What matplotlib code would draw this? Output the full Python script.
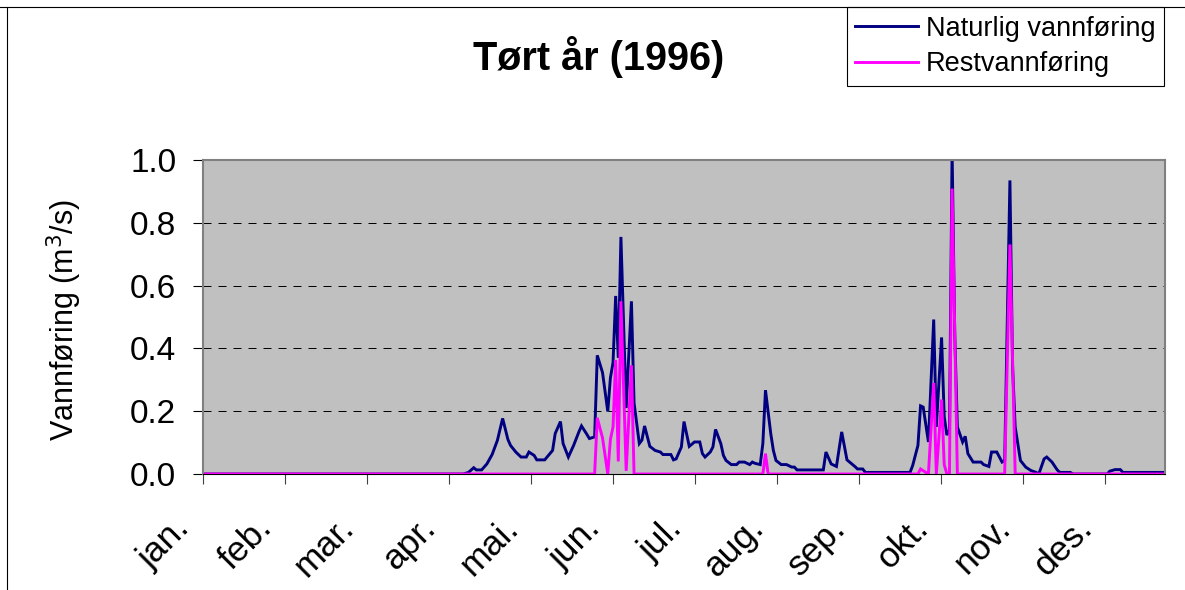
import numpy as np
import matplotlib
matplotlib.use("Agg")
import matplotlib.pyplot as plt
from matplotlib.lines import Line2D
from matplotlib.transforms import ScaledTranslation

plt.rcParams["font.family"] = ["Liberation Sans", "DejaVu Sans"]

# Daily flow 1996 (day of year, m3/s)
natural_day = [0, 99, 101, 103, 104, 106, 108, 110, 112, 114, 116, 117, 119, 121, 123, 124,
               126, 127, 130, 133, 134, 136, 137, 139, 141, 143, 144, 146, 147, 149, 150, 152,
               154, 155, 156, 157, 158, 159, 161, 163, 164, 166, 167, 168, 170, 172, 174, 175,
               178, 179, 180, 182, 183, 185, 187, 189, 190, 191, 192, 193, 194, 195, 197, 198,
               199, 201, 203, 204, 206, 208, 209, 210, 212, 213, 214, 216, 217, 218, 220, 222,
               224, 225, 226, 236, 237, 239, 241, 243, 245, 246, 248, 249, 251, 252, 269, 270,
               272, 273, 274, 276, 278, 279, 281, 282, 283, 284, 285, 286, 287, 289, 290, 291,
               293, 296, 297, 299, 300, 302, 304, 305, 307, 308, 309, 311, 313, 315, 317, 318,
               320, 321, 323, 325, 326, 330, 331, 344, 345, 347, 349, 350, 366]
natural_flow = [0, 0, 0.005, 0.02, 0.013, 0.013, 0.032, 0.062, 0.107, 0.177, 0.11, 0.091, 0.07,
                0.054, 0.054, 0.07, 0.059, 0.045, 0.045, 0.075, 0.129, 0.167, 0.097, 0.054,
                0.091, 0.134, 0.153, 0.127, 0.113, 0.118, 0.378, 0.323, 0.199, 0.306, 0.355,
                0.567, 0.37, 0.755, 0.21, 0.55, 0.226, 0.097, 0.108, 0.153, 0.088, 0.075, 0.07,
                0.062, 0.062, 0.045, 0.048, 0.086, 0.167, 0.088, 0.102, 0.102, 0.065, 0.054,
                0.062, 0.07, 0.086, 0.142, 0.097, 0.059, 0.043, 0.03, 0.03, 0.038, 0.038, 0.03,
                0.038, 0.034, 0.03, 0.097, 0.267, 0.129, 0.075, 0.043, 0.03, 0.03, 0.022, 0.022,
                0.013, 0.013, 0.07, 0.032, 0.024, 0.134, 0.045, 0.038, 0.024, 0.016, 0.016,
                0.005, 0.005, 0.027, 0.091, 0.217, 0.213, 0.102, 0.492, 0.15, 0.435, 0.183,
                0.124, 0.14, 1.03, 0.45, 0.15, 0.102, 0.12, 0.065, 0.038, 0.038, 0.03, 0.024,
                0.07, 0.07, 0.038, 0.043, 0.935, 0.344, 0.15, 0.043, 0.022, 0.011, 0.005, 0,
                0.048, 0.054, 0.038, 0.013, 0.005, 0.005, 0, 0, 0.009, 0.014, 0.014, 0.005, 0.005]

rest_day = [0, 149, 150, 152, 154, 155, 156, 157, 158, 159, 161, 163, 164, 213, 214, 215,
            272, 273, 275, 276, 278, 279, 281, 282, 283, 284, 285, 287, 305, 307, 309, 366]
rest_flow = [0, 0, 0.179, 0.115, 0, 0.11, 0.15, 0.363, 0.04, 0.55, 0.01, 0.346, 0, 0, 0.065, 0,
             0, 0.016, 0.005, 0, 0.29, 0, 0.237, 0.03, 0, 0, 0.909, 0, 0, 0.731, 0, 0]

months = ["jan.", "feb.", "mar.", "apr.", "mai.", "jun.", "jul.", "aug.", "sep.", "okt.",
          "nov.", "des."]
y_ticks = [0.0, 0.2, 0.4, 0.6, 0.8, 1.0]

W, H = 1185, 590
fig = plt.figure(figsize=(W / 100, H / 100), dpi=100)
ax = fig.add_axes([203 / W, 1 - 474 / H, (1165 - 203) / W, (474 - 160) / H])
ax.set_facecolor("#C0C0C0")

ax.plot(natural_day, natural_flow, color="#000080", lw=2.1, label="Naturlig vannføring",
        solid_joinstyle="miter")
ax.plot(rest_day, rest_flow, color="#FF00FF", lw=2.1, label="Restvannføring",
        solid_joinstyle="miter")

ax.set_xlim(0, 366)
ax.set_ylim(0, 1.0)

for v in y_ticks[1:-1]:
    ax.axhline(v, color="black", lw=0.72, linestyle=(0, (8, 7)), zorder=0.5)

ax.set_yticks(y_ticks)
ax.set_yticklabels([f"{v:.1f}" for v in y_ticks])
ax.set_xticks(np.arange(len(months)) * 31.2)
ax.set_xticklabels(months, rotation=45, ha="right", va="center", rotation_mode="anchor")

ax.tick_params(axis="y", length=7.2, width=0.8, color="black", pad=12, labelsize=24)
ax.tick_params(axis="x", length=7.2, width=0.8, color="#404040", pad=28, labelsize=25.5)
for lbl in ax.get_xticklabels():
    lbl.set_transform(lbl.get_transform() + ScaledTranslation(-0.18, 0, fig.dpi_scale_trans))

for side in ["left", "top", "right"]:
    ax.spines[side].set_color("#808080")
    ax.spines[side].set_linewidth(1.5)
ax.spines["bottom"].set_color("black")
ax.spines["bottom"].set_linewidth(0.8)

fig.text(599 / W, 1 - 57.5 / H, "Tørt år (1996)", ha="center", va="center",
         fontsize=28.5, fontweight="bold")
fig.text(64 / W, 1 - 320 / H, "Vannføring (m$^3$/s)", ha="center", va="center",
         rotation=90, fontsize=22)

leg = ax.legend(loc="upper left", bbox_to_anchor=(846.7 / W, 1 - 7 / H),
                bbox_transform=fig.transFigure, fontsize=19.5, frameon=True,
                fancybox=False, framealpha=1, edgecolor="black", handlelength=2.3,
                handletextpad=0.3, borderpad=0.32, labelspacing=0.35, borderaxespad=0)
leg.get_frame().set_linewidth(0.8)

# chart area border (cropped)
fig.add_artist(Line2D([0, 1], [1 - 7 / H, 1 - 7 / H], transform=fig.transFigure,
                      color="black", lw=0.8))
fig.add_artist(Line2D([7 / W, 7 / W], [0, 1 - 7 / H], transform=fig.transFigure,
                      color="black", lw=0.8))

fig.savefig("out.png", dpi=100, facecolor="white")
